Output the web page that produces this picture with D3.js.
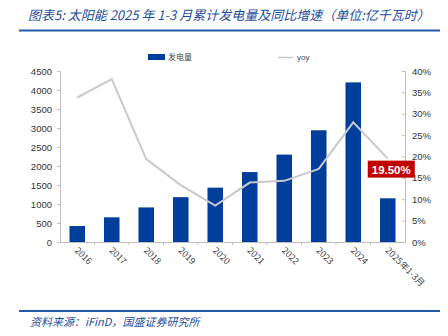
<!DOCTYPE html>
<html><head><meta charset="utf-8">
<script src="https://cdn.jsdelivr.net/npm/d3@7"></script>
<style>body{margin:0;background:#fff}svg{display:block}</style>
</head><body>
<script>
const categories = ["2016","2017","2018","2019","2020","2021","2022","2023","2024","2025年1-3月"];
const generation = [420, 650, 910, 1180, 1430, 1840, 2300, 2940, 4200, 1150];
const yoy = [33.8, 38.1, 19.4, 13.3, 8.5, 13.9, 14.3, 17.1, 28.0, 19.5];
const leftTicks = [0,500,1000,1500,2000,2500,3000,3500,4000,4500];
const rightTicks = [0,5,10,15,20,25,30,35,40];
const title = "图表5:  太阳能 2025 年 1-3 月累计发电量及同比增速（单位:亿千瓦时）";
const source = "资料来源：iFinD，国盛证券研究所";

const W=448,H=336;
const svg=d3.select("body").append("svg").attr("width",W).attr("height",H);
const blue="#1f4e9c";
svg.append("text").attr("x",28).attr("y",20).attr("fill",blue).attr("font-size",13)
  .attr("font-style","italic").attr("font-family","'Noto Sans CJK SC',sans-serif").text(title);
svg.append("line").attr("x1",19).attr("x2",440).attr("y1",30.5).attr("y2",30.5).attr("stroke","#2458a8").attr("stroke-width",2);
svg.append("line").attr("x1",19).attr("x2",440).attr("y1",311).attr("y2",311).attr("stroke","#2458a8").attr("stroke-width",2);
svg.append("text").attr("x",30).attr("y",326).attr("fill",blue).attr("font-size",11)
  .attr("font-style","italic").attr("font-family","'Noto Sans CJK SC',sans-serif").text(source);

const L=60,R=405,T=71,B=242;
const x=d3.scaleBand().domain(categories).range([L,R]).paddingInner(0.55).paddingOuter(0.275);
const y=d3.scaleLinear().domain([0,4500]).range([B,T]);
const y2=d3.scaleLinear().domain([0,40]).range([B,T]);
const font="'Liberation Sans',Arial,sans-serif";
const gray="#bfbfbf";

// left axis
const ga=svg.append("g").attr("transform",`translate(${L},0)`)
  .call(d3.axisLeft(y).tickValues(leftTicks).tickFormat(d3.format("d")).tickSize(3).tickPadding(5));
ga.select(".domain").attr("stroke",gray);
ga.selectAll(".tick line").attr("stroke",gray);
ga.selectAll("text").attr("font-size",9.5).attr("fill","#333").attr("font-family",font);
// right axis
const gb=svg.append("g").attr("transform",`translate(${R},0)`)
  .call(d3.axisRight(y2).tickValues(rightTicks).tickFormat(d=>d+"%").tickSize(0).tickPadding(7));
gb.select(".domain").attr("stroke",gray);
gb.selectAll(".tick").append("line").attr("x1",-3).attr("x2",0).attr("stroke",gray);
gb.selectAll("text").attr("font-size",9.5).attr("fill","#333").attr("font-family",font);

// bars
svg.append("g").selectAll("rect").data(categories).join("rect")
  .attr("x",d=>x(d)).attr("width",x.bandwidth())
  .attr("y",(d,i)=>y(generation[i])).attr("height",(d,i)=>B-y(generation[i]))
  .attr("fill","#003e9c");

// bottom axis
const step=x.step();
const gx=svg.append("g").attr("transform",`translate(0,${B})`)
  .call(d3.axisBottom(x).tickSize(0).tickPadding(0));
gx.select(".domain").attr("stroke",gray);
gx.selectAll(".tick text").attr("font-size",9).attr("fill","#444").attr("font-family","'Noto Sans CJK SC',"+font)
  .attr("text-anchor","start").attr("dy",0).attr("transform","translate(-3,9) rotate(45)");
svg.append("g").selectAll("line").data(d3.range(1,categories.length)).join("line")
  .attr("x1",i=>L+i*step).attr("x2",i=>L+i*step).attr("y1",B).attr("y2",B+3).attr("stroke",gray);

// line
const line=d3.line().x((d,i)=>x(categories[i])+x.bandwidth()/2).y(d=>y2(d));
svg.append("path").datum(yoy).attr("d",line).attr("fill","none").attr("stroke","#c9c9c9").attr("stroke-width",2);

// label
const li=yoy.length-1;
const lx=x(categories[li])+x.bandwidth()/2-20, ly=y2(yoy[li])+2;
svg.append("rect").attr("x",lx).attr("y",ly).attr("width",47).attr("height",17).attr("fill","#c00000");
svg.append("text").attr("x",lx+23.5).attr("y",ly+13).attr("text-anchor","middle").attr("fill","#fff")
  .attr("font-weight","bold").attr("font-size",11.5).attr("font-family",font).text(yoy[li].toFixed(2)+"%");

// legend
svg.append("rect").attr("x",148).attr("y",54).attr("width",17).attr("height",6).attr("fill","#003e9c");
svg.append("text").attr("x",168).attr("y",60).attr("font-size",8).attr("fill","#444").attr("font-family","'Noto Sans CJK SC',sans-serif").text("发电量");
svg.append("line").attr("x1",278).attr("x2",293).attr("y1",57.5).attr("y2",57.5).attr("stroke","#c9c9c9").attr("stroke-width",1.5);
svg.append("text").attr("x",297).attr("y",60).attr("font-size",8).attr("fill","#444").attr("font-family",font).text("yoy");
</script>
</body></html>
